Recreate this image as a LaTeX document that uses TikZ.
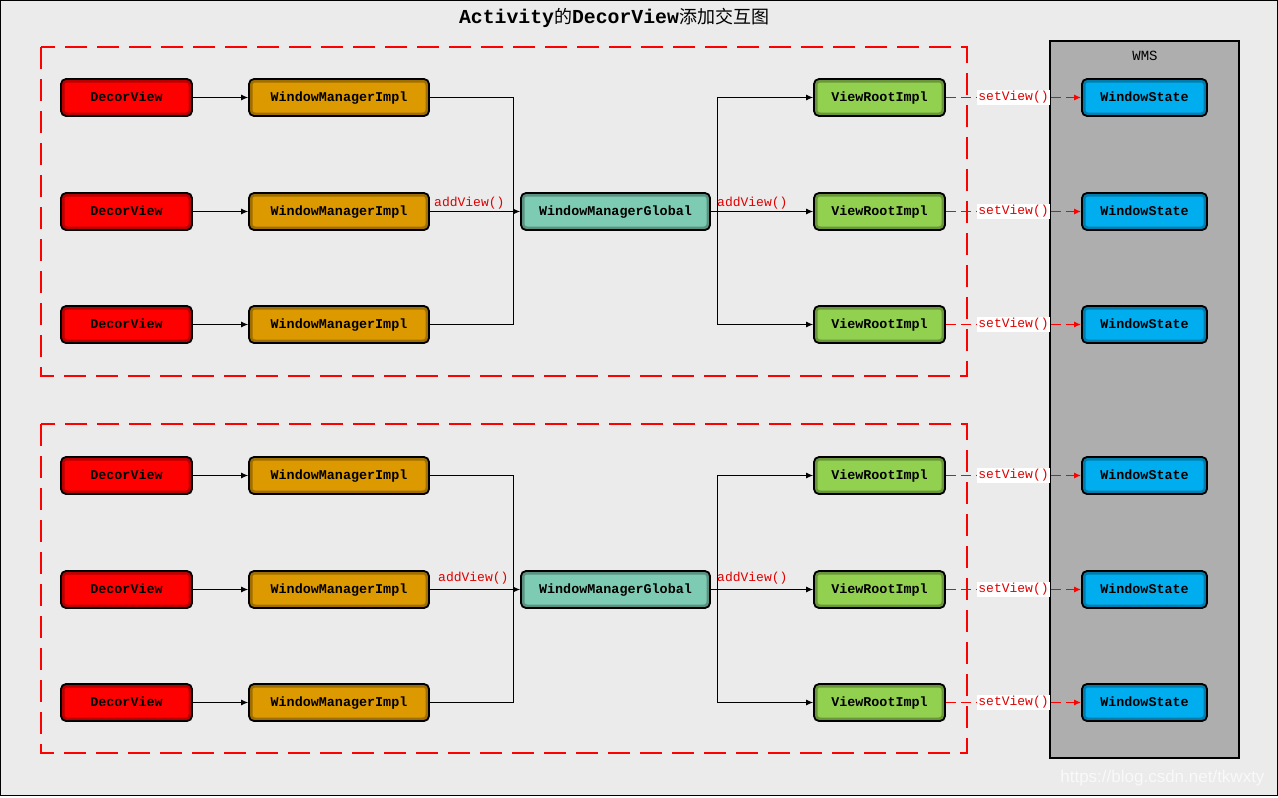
\documentclass[tikz,border=0pt]{standalone}
\usepackage{fontspec}
\setmonofont{Liberation Mono}
\newfontfamily\cjk{Noto Sans CJK SC}
\newfontfamily\wmfont{Liberation Sans}
\usetikzlibrary{arrows.meta}
\definecolor{bgc}{HTML}{EBEBEB}
\definecolor{wmsc}{HTML}{AEAEAE}
\definecolor{cdecor}{HTML}{FF0000}
\definecolor{cimpl}{HTML}{DD9900}
\definecolor{cglobal}{HTML}{7ECBB3}
\definecolor{croot}{HTML}{92D050}
\definecolor{cstate}{HTML}{00AEEF}
\definecolor{lblred}{HTML}{E00000}
\tikzset{
  box/.style={draw=black, line width=1.8pt, rounded corners=5pt, minimum height=37pt,
    inner sep=0pt, text height=9pt, text depth=1pt, font=\ttfamily\bfseries\fontsize{13.4}{14}\selectfont,
    path picture={\draw[black, opacity=0.28, line width=7pt, rounded corners=6pt]
      (path picture bounding box.south west) rectangle (path picture bounding box.north east);}},
  decor/.style={box, fill=cdecor, minimum width=131pt},
  impl/.style={box, fill=cimpl, minimum width=180pt},
  glob/.style={box, fill=cglobal, minimum width=189pt},
  root/.style={box, fill=croot, minimum width=131pt},
  state/.style={box, fill=cstate, minimum width=125pt},
  arr/.style={-{Latex[length=7pt,width=6pt]}, line width=0.9pt, black},
  conn/.style={line width=0.9pt, black},
  dasharr/.style={-{Latex[length=7pt,width=6pt]}, line width=1.2pt, red, dash pattern=on 10pt off 5pt},
  grp/.style={draw=red, line width=2pt, dash pattern=on 22pt off 10pt},
  lbl/.style={text=lblred, font=\ttfamily\fontsize{13}{13}\selectfont, inner sep=1pt},
}
\begin{document}
\begin{tikzpicture}[x=1pt, y=-1pt]
\useasboundingbox (0,0) rectangle (1278,798);
\fill[white] (0,0) rectangle (1278,798);
\draw[fill=bgc, line width=1pt] (0.5,0.5) rectangle (1277.5,795);
\node[font=\ttfamily\bfseries\fontsize{19.8}{22}\selectfont] (title) at (614,18)
  {Activity{\cjk\mdseries\fontsize{18}{22}\selectfont 的}DecorView{\cjk\mdseries\fontsize{18}{22}\selectfont 添加交互图}};
% groups
\draw[grp] (41,47) rectangle (967,376);
\draw[grp] (41,424) rectangle (967,753);
% WMS
\draw[fill=wmsc, line width=1.5pt] (1050,41) rectangle (1239,758);
\node[font=\ttfamily\fontsize{14}{14}\selectfont] (wms) at (1145,56) {WMS};
% watermark
\node[text=white!95!gray, font=\wmfont\fontsize{17}{17}\selectfont, anchor=east] (wm) at (1268,778) {https://blog.csdn.net/tkwxty};
% nodes and connectors for both groups
\foreach \g/\off in {a/0, b/378}{
  \foreach \i/\yy in {1/97.5, 2/211.5, 3/324.5}{
    \node[decor] (d\g\i) at (126.5,\yy+\off) {DecorView};
    \node[impl] (w\g\i) at (339,\yy+\off) {WindowManagerImpl};
    \node[root] (v\g\i) at (879.5,\yy+\off) {ViewRootImpl};
    \node[state] (s\g\i) at (1144.5,\yy+\off) {WindowState};
    \draw[arr] (d\g\i) -- (w\g\i);
    \draw[dasharr] (v\g\i) -- node[fill=white, lbl] {setView()} (s\g\i);
  }
  \node[glob] (g\g) at (615.5,211.5+\off) {WindowManagerGlobal};
  \coordinate (j\g) at (513,211.5+\off);
  \coordinate (k\g) at (717,211.5+\off);
  \draw[conn] (w\g1.east) -| (j\g);
  \draw[conn] (w\g3.east) -| (j\g);
  \draw[arr] (w\g2) -- (g\g);
  \draw[conn] (g\g) -- (k\g);
  \draw[arr] (k\g) |- (v\g1);
  \draw[arr] (k\g) |- (v\g3);
  \draw[arr] (k\g) -- (v\g2);
}
\node[lbl, anchor=south west] (la) at (433,210.5) {addView()};
\node[lbl, anchor=south west] (lb) at (716,210.5) {addView()};
\node[lbl, anchor=south west] (lc) at (437,585) {addView()};
\node[lbl, anchor=south west] (ld) at (716,585) {addView()};
\end{tikzpicture}
\end{document}
